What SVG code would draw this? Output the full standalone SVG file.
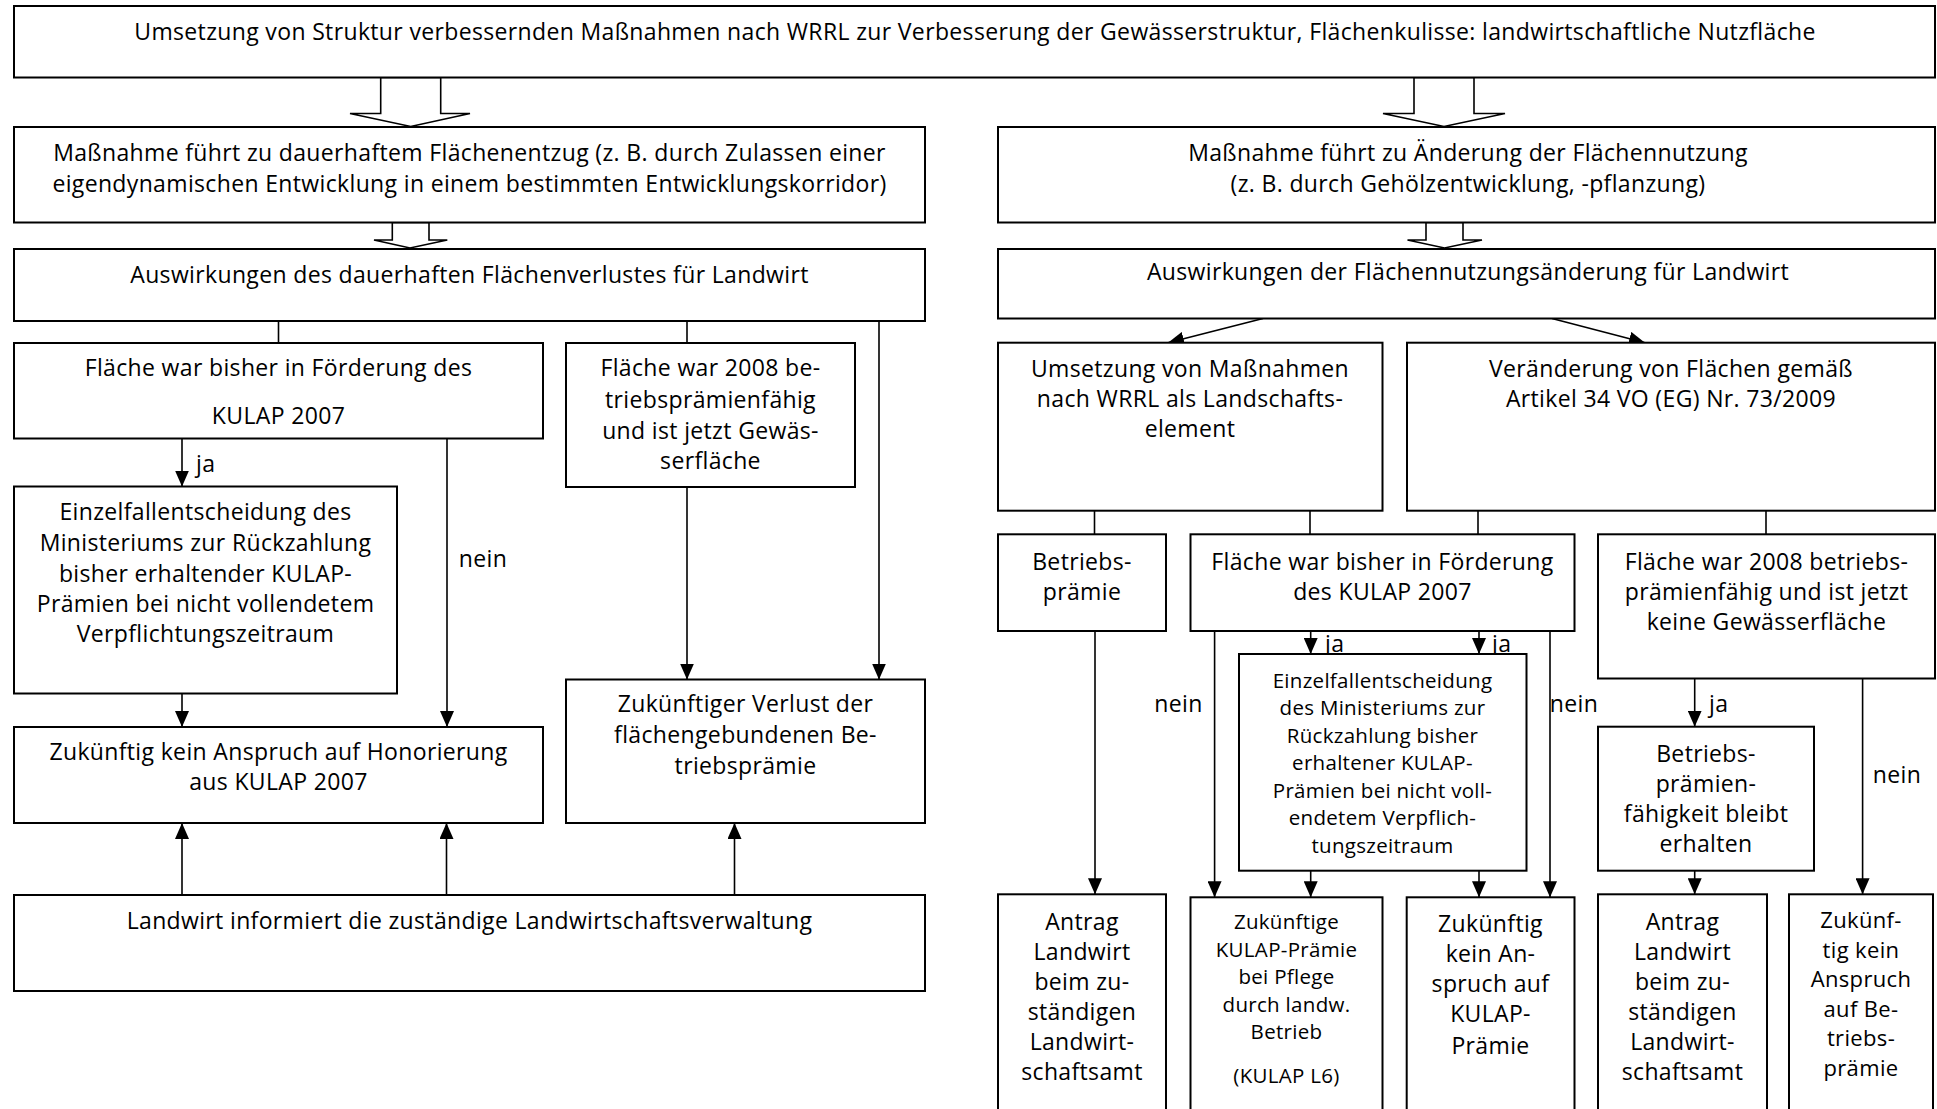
<svg xmlns="http://www.w3.org/2000/svg" width="1937" height="1109" viewBox="0 0 1937 1109">
<defs>
<style>
.b{fill:#fff;stroke:#000;stroke-width:2}
.c{fill:none;stroke:#000;stroke-width:1.6}
.ba{fill:#fff;stroke:#000;stroke-width:1.6;stroke-linejoin:miter}
text{font-family:"Open Sans","Liberation Sans",sans-serif;font-size:23px;letter-spacing:0.35px;fill:#000;text-anchor:middle}
.s{font-size:20.5px;letter-spacing:0.3px}
.m{font-size:22px}
.l{text-anchor:start}
</style>
<marker id="ah" viewBox="0 0 16 14" refX="16" refY="7" markerWidth="16" markerHeight="14" markerUnits="userSpaceOnUse" orient="auto">
<path d="M0,0 L16,7 L0,14 z" fill="#000"/>
</marker>
</defs>
<rect width="1937" height="1109" fill="#fff"/>

<g id="connectors">
<polygon class="ba" points="380.7,77.5 440.7,77.5 440.7,113.5 470,113.5 410.7,126.5 350,113.5 380.7,113.5"/>
<polygon class="ba" points="1414,77.5 1474,77.5 1474,113.5 1505,113.5 1444,126.5 1383,113.5 1414,113.5"/>
<polygon class="ba" points="392.3,222.5 429,222.5 429,240 447.3,240 410,248 374,240 392.3,240"/>
<polygon class="ba" points="1426,222.5 1463,222.5 1463,240 1482,240 1444.5,248 1407.5,240 1426,240"/>

<line class="c" x1="278.5" y1="321" x2="278.5" y2="343"/>
<line class="c" x1="687" y1="321" x2="687" y2="343"/>
<line class="c" x1="879" y1="321" x2="879" y2="679.5" marker-end="url(#ah)"/>
<line class="c" x1="182" y1="438.5" x2="182" y2="486.5" marker-end="url(#ah)"/>
<line class="c" x1="447" y1="438.5" x2="447" y2="727" marker-end="url(#ah)"/>
<line class="c" x1="182" y1="693.5" x2="182" y2="727" marker-end="url(#ah)"/>
<line class="c" x1="687" y1="487" x2="687" y2="679.5" marker-end="url(#ah)"/>
<line class="c" x1="182" y1="895" x2="182" y2="823" marker-end="url(#ah)"/>
<line class="c" x1="446.5" y1="895" x2="446.5" y2="823" marker-end="url(#ah)"/>
<line class="c" x1="734.5" y1="895" x2="734.5" y2="823" marker-end="url(#ah)"/>

<line class="c" x1="1263" y1="318.5" x2="1168" y2="342.7" marker-end="url(#ah)"/>
<line class="c" x1="1552" y1="318.5" x2="1645" y2="342.7" marker-end="url(#ah)"/>
<line class="c" x1="1094.5" y1="510.7" x2="1094.5" y2="534.3"/>
<line class="c" x1="1310" y1="510.7" x2="1310" y2="534.3"/>
<line class="c" x1="1478" y1="510.7" x2="1478" y2="534.3"/>
<line class="c" x1="1766" y1="510.7" x2="1766" y2="534.3"/>
<line class="c" x1="1095" y1="631" x2="1095" y2="894.3" marker-end="url(#ah)"/>
<line class="c" x1="1214.6" y1="631" x2="1214.6" y2="897.3" marker-end="url(#ah)"/>
<line class="c" x1="1310.7" y1="631" x2="1310.7" y2="654" marker-end="url(#ah)"/>
<line class="c" x1="1479" y1="631" x2="1479" y2="654" marker-end="url(#ah)"/>
<line class="c" x1="1550" y1="631" x2="1550" y2="897.3" marker-end="url(#ah)"/>
<line class="c" x1="1310.7" y1="870.7" x2="1310.7" y2="897.3" marker-end="url(#ah)"/>
<line class="c" x1="1479" y1="870.7" x2="1479" y2="897.3" marker-end="url(#ah)"/>
<line class="c" x1="1694.7" y1="678.5" x2="1694.7" y2="726.7" marker-end="url(#ah)"/>
<line class="c" x1="1694.7" y1="870.7" x2="1694.7" y2="894.3" marker-end="url(#ah)"/>
<line class="c" x1="1862.6" y1="678.5" x2="1862.6" y2="894.3" marker-end="url(#ah)"/>

<text class="l" x="196" y="472">ja</text>
<text x="483" y="567">nein</text>
<text class="l" x="1325" y="651.5">ja</text>
<text class="l" x="1492" y="651.5">ja</text>
<text x="1178.5" y="712">nein</text>
<text x="1574" y="712">nein</text>
<text class="l" x="1709" y="712">ja</text>
<text x="1897" y="783">nein</text>
</g>

<g id="top">
<rect class="b" x="14" y="6" width="1921" height="71.5"/>
<text x="975" y="40">Umsetzung von Struktur verbessernden Maßnahmen nach WRRL zur Verbesserung der Gewässerstruktur, Flächenkulisse: landwirtschaftliche Nutzfläche</text>
</g>

<g id="massnahme-entzug">
<rect class="b" x="14" y="127" width="911" height="95.5"/>
<text x="469.5" y="161">Maßnahme führt zu dauerhaftem Flächenentzug (z. B. durch Zulassen einer</text>
<text x="469.5" y="192">eigendynamischen Entwicklung in einem bestimmten Entwicklungskorridor)</text>
</g>

<g id="auswirkungen-verlust">
<rect class="b" x="14" y="249" width="911" height="72"/>
<text x="469.5" y="283">Auswirkungen des dauerhaften Flächenverlustes für Landwirt</text>
</g>

<g id="kulap-links">
<rect class="b" x="14" y="343" width="529" height="95.5"/>
<text x="278.5" y="376">Fläche war bisher in Förderung des</text>
<text x="278.5" y="424">KULAP 2007</text>
</g>

<g id="gewaesser-links">
<rect class="b" x="566" y="343" width="289" height="144"/>
<text x="710.5" y="376">Fläche war 2008 be-</text>
<text x="710.5" y="408">triebsprämienfähig</text>
<text x="710.5" y="438.5">und ist jetzt Gewäs-</text>
<text x="710.5" y="468.5">serfläche</text>
</g>

<g id="einzelfall-links">
<rect class="b" x="14" y="486.5" width="383" height="207"/>
<text x="205.5" y="520">Einzelfallentscheidung des</text>
<text x="205.5" y="551">Ministeriums zur Rückzahlung</text>
<text x="205.5" y="582">bisher erhaltender KULAP-</text>
<text x="205.5" y="612">Prämien bei nicht vollendetem</text>
<text x="205.5" y="642">Verpflichtungszeitraum</text>
</g>

<g id="honorierung">
<rect class="b" x="14" y="727" width="529" height="96"/>
<text x="278.5" y="760">Zukünftig kein Anspruch auf Honorierung</text>
<text x="278.5" y="790">aus KULAP 2007</text>
</g>

<g id="verlust">
<rect class="b" x="566" y="679.5" width="359" height="143.5"/>
<text x="745.5" y="712">Zukünftiger Verlust der</text>
<text x="745.5" y="743">flächengebundenen Be-</text>
<text x="745.5" y="774">triebsprämie</text>
</g>

<g id="landwirt-informiert">
<rect class="b" x="14" y="895" width="911" height="96"/>
<text x="469.5" y="929">Landwirt informiert die zuständige Landwirtschaftsverwaltung</text>
</g>

<g id="massnahme-nutzung">
<rect class="b" x="998" y="127" width="937" height="95.5"/>
<text x="1468" y="161">Maßnahme führt zu Änderung der Flächennutzung</text>
<text x="1468" y="192">(z. B. durch Gehölzentwicklung, -pflanzung)</text>
</g>

<g id="auswirkungen-nutzung">
<rect class="b" x="998" y="249" width="937" height="69.5"/>
<text x="1468" y="280">Auswirkungen der Flächennutzungsänderung für Landwirt</text>
</g>

<g id="umsetzung-wrrl">
<rect class="b" x="998" y="342.7" width="384.5" height="168"/>
<text x="1190" y="377">Umsetzung von Maßnahmen</text>
<text x="1190" y="407">nach WRRL als Landschafts-</text>
<text x="1190" y="437">element</text>
</g>

<g id="veraenderung">
<rect class="b" x="1407" y="342.7" width="528" height="168"/>
<text x="1671" y="377">Veränderung von Flächen gemäß</text>
<text x="1671" y="407">Artikel 34 VO (EG) Nr. 73/2009</text>
</g>

<g id="betriebspraemie">
<rect class="b" x="998" y="534.3" width="168" height="96.7"/>
<text x="1082" y="570">Betriebs-</text>
<text x="1082" y="600">prämie</text>
</g>

<g id="kulap-rechts">
<rect class="b" x="1190.5" y="534.3" width="384" height="96.7"/>
<text x="1382.5" y="570">Fläche war bisher in Förderung</text>
<text x="1382.5" y="600">des KULAP 2007</text>
</g>

<g id="flaeche-2008-rechts">
<rect class="b" x="1598" y="534.3" width="337" height="144.2"/>
<text x="1766.5" y="570">Fläche war 2008 betriebs-</text>
<text x="1766.5" y="600">prämienfähig und ist jetzt</text>
<text x="1766.5" y="630">keine Gewässerfläche</text>
</g>

<g id="einzelfall-rechts">
<rect class="b" x="1239" y="654" width="287.5" height="216.7"/>
<text class="s" x="1382.5" y="688">Einzelfallentscheidung</text>
<text class="s" x="1382.5" y="715">des Ministeriums zur</text>
<text class="s" x="1382.5" y="742.5">Rückzahlung bisher</text>
<text class="s" x="1382.5" y="770">erhaltener KULAP-</text>
<text class="s" x="1382.5" y="797.5">Prämien bei nicht voll-</text>
<text class="s" x="1382.5" y="825">endetem Verpflich-</text>
<text class="s" x="1382.5" y="852.5">tungszeitraum</text>
</g>

<g id="praemienfaehigkeit">
<rect class="b" x="1598" y="726.7" width="216" height="144"/>
<text x="1706" y="762">Betriebs-</text>
<text x="1706" y="792">prämien-</text>
<text x="1706" y="822">fähigkeit bleibt</text>
<text x="1706" y="852">erhalten</text>
</g>

<g id="antrag-1">
<rect class="b" x="998" y="894.3" width="168" height="230"/>
<text x="1082" y="930">Antrag</text>
<text x="1082" y="959.5">Landwirt</text>
<text x="1082" y="989.5">beim zu-</text>
<text x="1082" y="1019.5">ständigen</text>
<text x="1082" y="1050">Landwirt-</text>
<text x="1082" y="1080">schaftsamt</text>
</g>

<g id="kulap-l6">
<rect class="b" x="1190.5" y="897.3" width="192" height="230"/>
<text class="s" x="1286.5" y="929">Zukünftige</text>
<text class="s" x="1286.5" y="956.5">KULAP-Prämie</text>
<text class="s" x="1286.5" y="984">bei Pflege</text>
<text class="s" x="1286.5" y="1011.5">durch landw.</text>
<text class="s" x="1286.5" y="1039">Betrieb</text>
<text class="s" x="1286.5" y="1083">(KULAP L6)</text>
</g>

<g id="kein-kulap">
<rect class="b" x="1406.7" y="897.3" width="167.8" height="230"/>
<text x="1490.5" y="932">Zukünftig</text>
<text x="1490.5" y="962">kein An-</text>
<text x="1490.5" y="992">spruch auf</text>
<text x="1490.5" y="1022">KULAP-</text>
<text x="1490.5" y="1054">Prämie</text>
</g>

<g id="antrag-2">
<rect class="b" x="1598" y="894.3" width="169" height="230"/>
<text x="1682.5" y="930">Antrag</text>
<text x="1682.5" y="959.5">Landwirt</text>
<text x="1682.5" y="989.5">beim zu-</text>
<text x="1682.5" y="1019.5">ständigen</text>
<text x="1682.5" y="1050">Landwirt-</text>
<text x="1682.5" y="1080">schaftsamt</text>
</g>

<g id="kein-betriebspraemie">
<rect class="b" x="1789" y="894.3" width="144" height="230"/>
<text class="m" x="1861" y="928">Zukünf-</text>
<text class="m" x="1861" y="957.5">tig kein</text>
<text class="m" x="1861" y="987">Anspruch</text>
<text class="m" x="1861" y="1016.5">auf Be-</text>
<text class="m" x="1861" y="1046">triebs-</text>
<text class="m" x="1861" y="1075.5">prämie</text>
</g>
</svg>
